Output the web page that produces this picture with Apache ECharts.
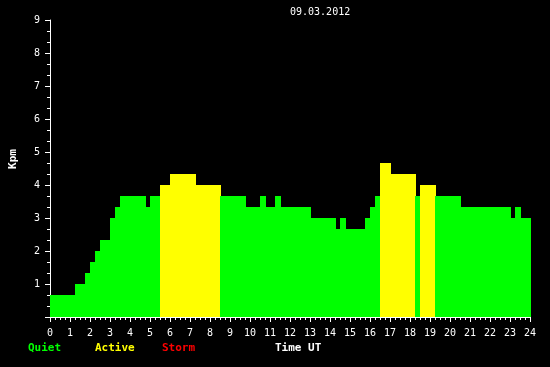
<!DOCTYPE html>
<html>
<head>
<meta charset="utf-8">
<script src="https://cdn.jsdelivr.net/npm/echarts@6/dist/echarts.min.js"></script>
<style>html,body{margin:0;padding:0;background:#000;}#c{width:550px;height:367px;}</style>
</head>
<body>
<div id="c"></div>
<script>
// Segment start times (hours UT)
var segStart = [0, 1.25, 1.75, 2.0, 2.25, 2.5, 3.0, 3.25, 3.5, 4.8, 5.0, 5.5, 6.0, 7.3, 8.5, 9.8, 10.5, 10.8, 11.25, 11.55, 13.05, 14.3, 14.5, 14.8, 15.75, 16.0, 16.25, 16.5, 17.05, 18.25, 18.5, 19.25, 20.55, 23.05, 23.25, 23.55];
// Segment end times (hours UT)
var segEnd = [1.25, 1.75, 2.0, 2.25, 2.5, 3.0, 3.25, 3.5, 4.8, 5.0, 5.5, 6.0, 7.3, 8.55, 9.8, 10.5, 10.8, 11.25, 11.55, 13.05, 14.3, 14.5, 14.8, 15.75, 16.0, 16.25, 16.5, 17.05, 18.3, 18.5, 19.3, 20.55, 23.05, 23.25, 23.55, 24.05];
// Kpm values
var kpm = [0.667, 1.0, 1.333, 1.667, 2.0, 2.333, 3.0, 3.333, 3.667, 3.333, 3.667, 4.0, 4.333, 4.0, 3.667, 3.333, 3.667, 3.333, 3.667, 3.333, 3.0, 2.667, 3.0, 2.667, 3.0, 3.333, 3.667, 4.667, 4.333, 3.667, 4.0, 3.667, 3.333, 3.0, 3.333, 3.0];
var xTicks = [0,1,2,3,4,5,6,7,8,9,10,11,12,13,14,15,16,17,18,19,20,21,22,23,24];
var yTicks = [0,1,2,3,4,5,6,7,8,9];
var dateLabel = '09.03.2012';

var data = segStart.map(function(s, i){ return [s, segEnd[i], kpm[i]]; });
function colorFor(v){ return v >= 5 ? '#ff0000' : (v >= 4 ? '#ffff00' : '#00ff00'); }

var font = '"DejaVu Sans Mono", monospace';
var chart = echarts.init(document.getElementById('c'), null, {renderer:'canvas'});
chart.setOption({
  backgroundColor: '#000000',
  animation: false,
  grid: {left: 50, right: 20, top: 20, bottom: 50},
  xAxis: {
    type: 'value', min: xTicks[0], max: xTicks[xTicks.length-1], interval: 1,
    axisLine: {show: true, lineStyle: {color: '#ffffff', width: 1}},
    axisTick: {show: true, length: 5, lineStyle: {color: '#ffffff'}},
    minorTick: {show: true, splitNumber: 4, length: 3, lineStyle: {color: '#ffffff'}},
    splitLine: {show: false},
    axisLabel: {color: '#ffffff', fontFamily: font, fontSize: 10, margin: 11}
  },
  yAxis: {
    type: 'value', min: yTicks[0], max: yTicks[yTicks.length-1], interval: 1,
    axisLine: {show: true, lineStyle: {color: '#ffffff', width: 1}},
    axisTick: {show: true, length: 5, lineStyle: {color: '#ffffff'}},
    minorTick: {show: true, splitNumber: 3, length: 3, lineStyle: {color: '#ffffff'}},
    splitLine: {show: false},
    axisLabel: {color: '#ffffff', fontFamily: font, fontSize: 10, margin: 10,
      formatter: function(v){ return v === 0 ? '' : String(v); }}
  },
  series: [{
    type: 'custom',
    data: data,
    encode: {x: [0, 1], y: 2},
    renderItem: function(params, api){
      var p0 = api.coord([api.value(0), api.value(2)]);
      var p1 = api.coord([api.value(1), 0]);
      return {
        type: 'rect',
        shape: {x: p0[0], y: p0[1], width: p1[0] - p0[0], height: p1[1] - p0[1]},
        style: {fill: colorFor(api.value(2))}
      };
    },
    clip: false
  }],
  graphic: [
    {type:'text', left: 290, top: 7, style:{text: dateLabel, fill:'#ffffff', font:'10px ' + font}},
    {type:'text', x: 13, y: 159, rotation: Math.PI/2, style:{text:'Kpm', fill:'#ffffff', font:'bold 11px ' + font, align:'center', verticalAlign:'middle'}},
    {type:'text', left: 28, top: 343, style:{text:'Quiet', fill:'#00ff00', font:'bold 11px ' + font}},
    {type:'text', left: 95, top: 343, style:{text:'Active', fill:'#ffff00', font:'bold 11px ' + font}},
    {type:'text', left: 162, top: 343, style:{text:'Storm', fill:'#ff0000', font:'bold 11px ' + font}},
    {type:'text', left: 275, top: 343, style:{text:'Time UT', fill:'#ffffff', font:'bold 11px ' + font}}
  ]
});
</script>
</body>
</html>
